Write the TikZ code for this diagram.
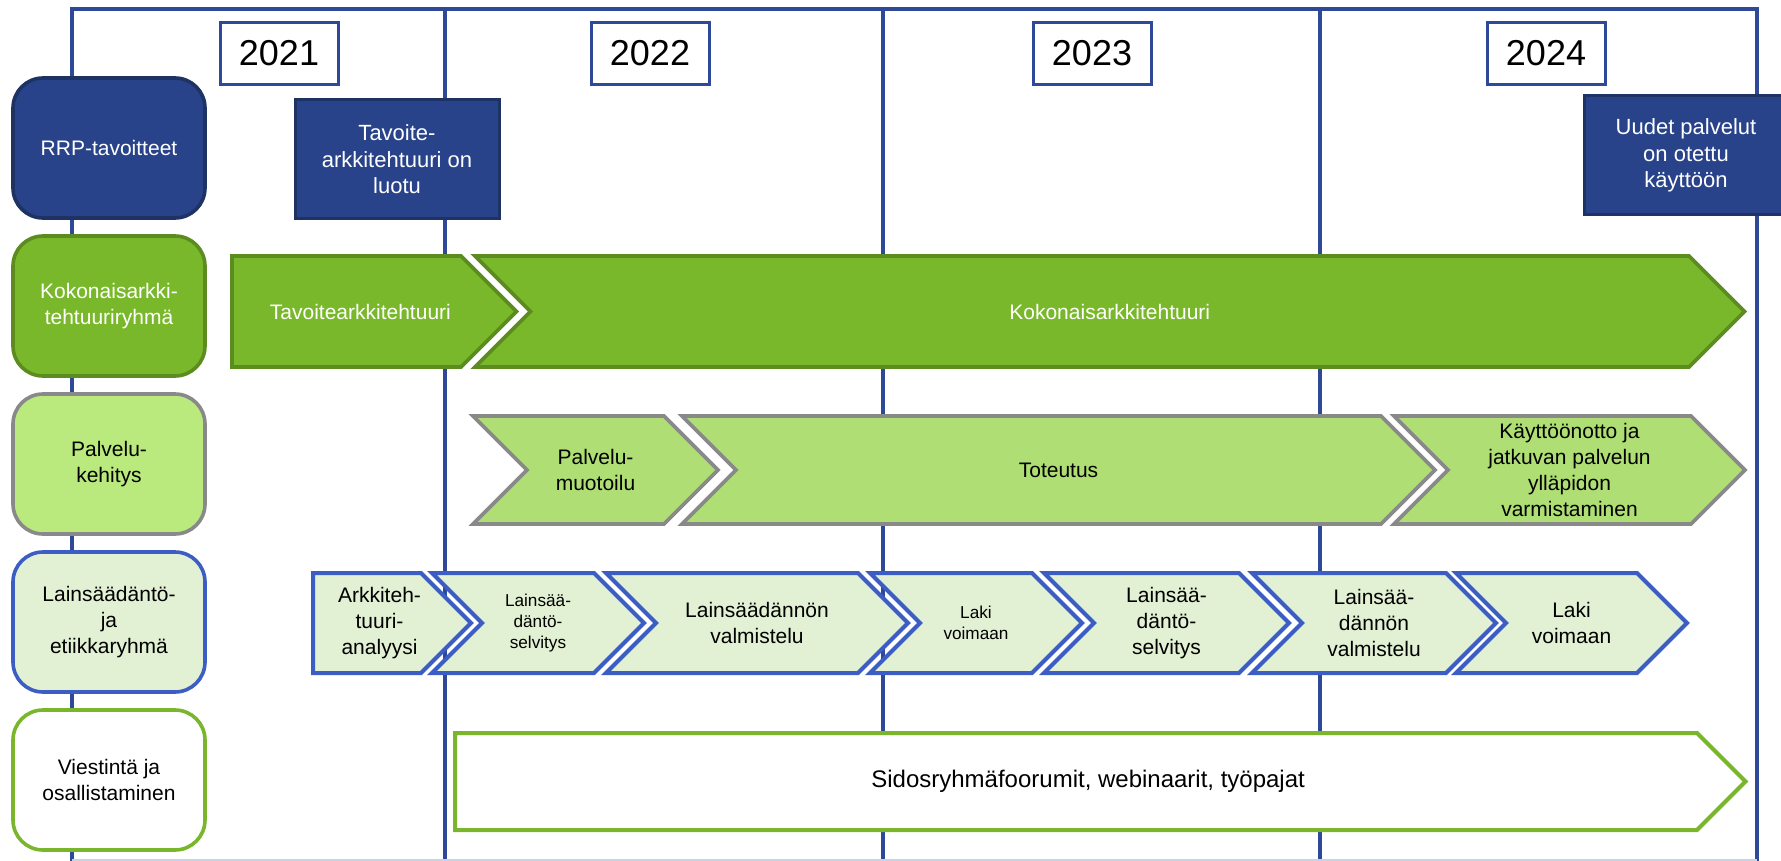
\documentclass[tikz,border=0pt]{standalone}
\usepackage{fontspec}
\setmainfont{Liberation Sans}
\usetikzlibrary{positioning}
\definecolor{navy}{RGB}{40,67,137}
\definecolor{navyline}{RGB}{30,50,100}
\definecolor{frameblue}{RGB}{45,73,152}
\definecolor{lawblue}{RGB}{60,93,196}
\definecolor{kagreen}{RGB}{121,184,42}
\definecolor{kaline}{RGB}{92,140,31}
\definecolor{pkgreen}{RGB}{186,234,125}
\definecolor{pkchev}{RGB}{174,222,116}
\definecolor{pkline}{RGB}{137,137,137}
\definecolor{lawfill}{RGB}{226,240,212}
\definecolor{viline}{RGB}{122,182,43}
\def\norm{\fontsize{10.5}{13}\selectfont}
\tikzstyle{frame} = [draw=frameblue, line width=2pt]
\tikzstyle{year} = [rectangle, draw=frameblue, fill=white, line width=1.5pt, minimum width=59pt, minimum height=31pt, font=\fontsize{18}{20}\selectfont]
\tikzstyle{group} = [rectangle, rounded corners=15pt, line width=1.8pt, minimum width=96pt, minimum height=70pt, align=center, font=\norm]
\tikzstyle{milestone} = [rectangle, fill=navy, draw=navyline, line width=1.5pt, text=white, minimum width=102pt, minimum height=59.5pt, align=center, font=\fontsize{11}{13.3}\selectfont]
\tikzstyle{kabar} = [fill=kagreen, draw=kaline, line width=1.8pt]
\tikzstyle{pkbar} = [fill=pkchev, draw=pkline, line width=1.8pt]
\tikzstyle{lawbar} = [fill=lawfill, draw=lawblue, line width=2pt]
\tikzstyle{vibar} = [fill=white, draw=viline, line width=2pt]
\tikzstyle{bartext} = [align=center, font=\norm]
\tikzstyle{whitetext} = [bartext, text=white]
\tikzstyle{smalltext} = [align=center, font=\fontsize{8.6}{10.6}\selectfont]
\tikzstyle{bigtext} = [align=center, font=\fontsize{12}{14}\selectfont]

% left, end, top, bottom, bar style, text style, name, text
\newcommand{\arrowbar}[8]{%
  \pgfmathsetmacro\dd{(#4-#3)/2}
  \draw[#5] (#1,#3) -- (#2,#3) -- (#2+\dd,#3+\dd) -- (#2,#4) -- (#1,#4) -- cycle;
  \node[#6] (#7) at ({(#1+#2+\dd/2)/2},{#3+\dd}) {#8};}
\newcommand{\chevbar}[8]{%
  \pgfmathsetmacro\dd{(#4-#3)/2}
  \draw[#5] (#1,#3) -- (#2,#3) -- (#2+\dd,#3+\dd) -- (#2,#4) -- (#1,#4) -- (#1+\dd,#3+\dd) -- cycle;
  \node[#6] (#7) at ({(#1+\dd+#2)/2},{#3+\dd}) {#8};}

\begin{document}
\begin{tikzpicture}[x=0.5pt, y=-0.5pt, align=center]
  \useasboundingbox (0,0) rectangle (1781,861);

  % frame and year lines
  \draw[frame] (72,861) -- (72,9.5) -- (1757,9.5) -- (1757,861);
  \foreach \x in {445,883,1320}{
    \draw[frame] (\x,9.5) -- (\x,861);
  }
  \draw[frameblue!25, line width=1pt] (72,860) -- (1757,860);

  \foreach \x/\y in {279/2021,650/2022,1092/2023,1546/2024}{
    \node[year] (y\y) at (\x,53.5) {\y};
  }

  % groups
  \node[group, fill=navy, draw=navyline, text=white] (rrp) at (109,148) {RRP-tavoitteet};
  \node[group, fill=kagreen, draw=kaline, text=white, below=7.2pt of rrp] (ka) {Kokonaisarkki-\\tehtuuriryhmä};
  \node[group, fill=pkgreen, draw=pkline, below=7.2pt of ka] (pk) {Palvelu-\\kehitys};
  \node[group, fill=lawfill, draw=lawblue, below=7.2pt of pk] (law) {Lainsäädäntö-\\ja\\etiikkaryhmä};
  \node[group, fill=white, draw=viline, below=7.2pt of law] (vi) {Viestintä ja\\osallistaminen};

  \node[milestone] (goal1) at (397,159.5) {Tavoite-\\arkkitehtuuri on\\luotu};
  \node[milestone] (goal2) at (1686,155.5) {Uudet palvelut\\on otettu\\käyttöön};

  % kokonaisarkkitehtuuri
  \arrowbar{232}{461}{256}{367}{kabar}{whitetext}{ka1}{Tavoitearkkitehtuuri}
  \chevbar{475}{1689}{256}{367}{kabar}{whitetext}{ka2}{Kokonaisarkkitehtuuri}

  % palvelukehitys
  \foreach \xl/\xr/\txt [count=\i] in {473/664/{Palvelu-\\muotoilu}, 682/1381/Toteutus,
      1394/1691/{Käyttöönotto ja\\jatkuvan palvelun\\ylläpidon\\varmistaminen}}{
    \chevbar{\xl}{\xr}{416}{524}{pkbar}{bartext}{pk\i}{\txt}
  }

  % lainsaadanto
  \arrowbar{313}{421}{573}{673}{lawbar}{bartext}{law0}{Arkkiteh-\\tuuri-\\analyysi}
  \foreach \xl/\xr/\sty/\txt [count=\i] in {432/594/smalltext/{Lainsää-\\däntö-\\selvitys},
      606/858/bartext/{Lainsäädännön\\valmistelu}, 870/1032/smalltext/{Laki\\voimaan},
      1044/1239/bartext/{Lainsää-\\däntö-\\selvitys}, 1252/1446/bartext/{Lainsää-\\dännön\\valmistelu},
      1456/1637/bartext/{Laki\\voimaan}}{
    \chevbar{\xl}{\xr}{573}{673}{lawbar}{\sty}{law\i}{\txt}
  }

  % viestinta
  \arrowbar{455}{1697}{733}{830}{vibar}{bigtext}{vi1}{Sidosryhmäfoorumit, webinaarit, työpajat}
\end{tikzpicture}
\end{document}
